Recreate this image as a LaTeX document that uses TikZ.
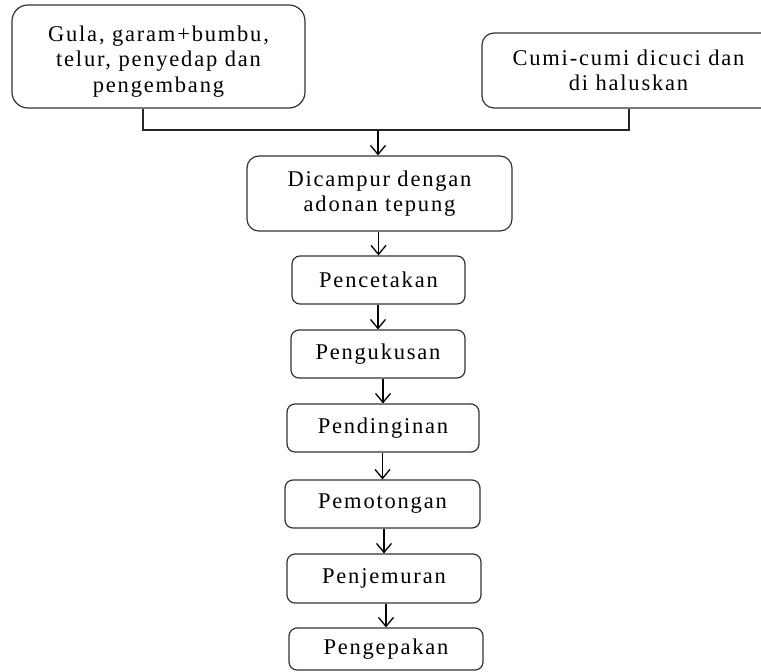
\documentclass[tikz,border=0pt]{standalone}
\usepackage{fontspec}
\setmainfont{Liberation Serif}[LetterSpace=8]
\usetikzlibrary{arrows.meta}
\tikzset{
  txt/.style={align=center, inner sep=0pt, font=\fontsize{22.5}{25.5}\selectfont, text=black},
  box/.style={draw=black!80, line width=1.2pt, rounded corners=#1, txt},
  box/.default=8pt,
  arr/.style={draw=black, line width=1.3pt, -{Straight Barb[length=9pt,width=15pt,line width=1.3pt]}},
  conn/.style={draw=black!85, line width=1.2pt}
}
\begin{document}
\begin{tikzpicture}[x=1pt,y=-1pt]
\useasboundingbox (0,0) rectangle (761,672);
\clip (0,0) rectangle (761,672);
\node[box=16pt, minimum width=293pt, minimum height=103pt] (b1) at (158.5,56.5) {};
\node[txt] (b1t) at ([yshift=-5pt]b1.center)
  {Gula, garam+bumbu,\\telur, penyedap dan\\pengembang};
\node[box=12pt, minimum width=293pt, minimum height=75pt] (b2) at (628.5,70.5)
  {Cumi-cumi dicuci dan\\di haluskan};
\node[box=12pt, minimum width=265pt, minimum height=75pt] (b3) at (379.5,193.5)
  {Dicampur dengan\\adonan tepung};
\node[box, minimum width=173pt, minimum height=48pt] (b4) at (378.5,280) {Pencetakan};
\node[box, minimum width=174pt, minimum height=48pt] (b5) at (378,354) {Pengukusan};
\node[box, minimum width=192pt, minimum height=48pt] (b6) at (383,428) {Pendinginan};
\node[box, minimum width=195pt, minimum height=48pt] (b7) at (382.5,504) {Pemotongan};
\node[box, minimum width=194pt, minimum height=49pt] (b8) at (384,578.5) {Penjemuran};
\node[box, minimum width=194pt, minimum height=42pt] (b9) at (386,649) {Pengepakan};
\coordinate (l1) at (143,130);
\coordinate (r1) at (629,130);
\coordinate (j) at (378,130);
\draw[conn] (l1 |- b1.south) -- (l1) -- (r1) -- (r1 |- b2.south);
\draw[arr] (j) -- (j |- b3.north);
\draw[arr] (b4.north |- b3.south) -- (b4.north);
\draw[arr] (b5.north |- b4.south) -- (b5.north);
\draw[arr] (b6.north |- b5.south) -- (b6.north);
\draw[arr] (b7.north |- b6.south) -- (b7.north);
\draw[arr] (b8.north |- b7.south) -- (b8.north);
\draw[arr] (b9.north |- b8.south) -- (b9.north);
\end{tikzpicture}
\end{document}
